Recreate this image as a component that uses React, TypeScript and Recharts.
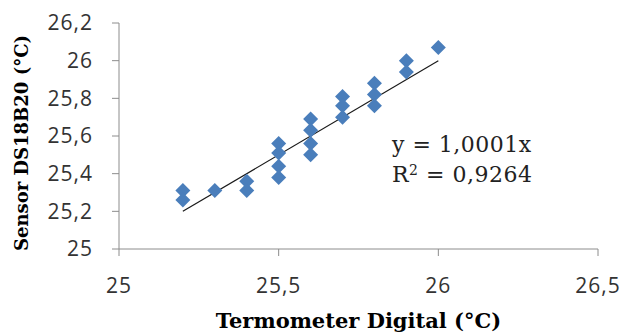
import React from 'react';
import { ScatterChart, Scatter, XAxis, YAxis, ReferenceLine, Label } from 'recharts';

// readings, grouped by thermometer value
const thermometer = [
  25.2, 25.2,
  25.3,
  25.4, 25.4,
  25.5, 25.5, 25.5, 25.5,
  25.6, 25.6, 25.6, 25.6,
  25.7, 25.7, 25.7,
  25.8, 25.8, 25.8,
  25.9, 25.9,
  26.0,
];
const sensor = [
  25.31, 25.26,
  25.31,
  25.36, 25.31,
  25.56, 25.51, 25.44, 25.38,
  25.69, 25.63, 25.56, 25.5,
  25.81, 25.76, 25.7,
  25.88, 25.82, 25.76,
  26.0, 25.94,
  26.07,
];
const xTicks = [25, 25.5, 26, 26.5];
const yTicks = [25, 25.2, 25.4, 25.6, 25.8, 26, 26.2];
const trendStart = { x: 25.2, y: 25.2 };
const trendEnd = { x: 26.0, y: 26.0 };

const points = thermometer.map((t, i) => ({ x: t, y: sensor[i] }));

const fmt = (v: number) => String(v).replace('.', ',');

const Diamond = ({ cx, cy }: any) => {
  const r = 7.5;
  return (
    <polygon
      points={`${cx},${cy - r} ${cx + r},${cy} ${cx},${cy + r} ${cx - r},${cy}`}
      fill="#4a7ebb"
    />
  );
};

const YTitle = () => (
  <text
    x={21}
    y={143}
    transform="rotate(-90, 21, 143)"
    textAnchor="middle"
    dominantBaseline="central"
    fontFamily="DejaVu Serif"
    fontWeight="bold"
    fontSize={18}
    fill="#000"
  >
    Sensor DS18B20 (°C)
  </text>
);

const tickStyle = { fontFamily: 'Open Sans', fontSize: 21, fill: '#333', letterSpacing: 1 };

export default function App() {
  return (
    <div style={{ position: 'absolute', left: 0, top: 0, width: 630, height: 334, background: '#fff' }}>
      <ScatterChart width={630} height={334} margin={{ top: 23, right: 32, bottom: 0, left: 0 }}>
        <XAxis
          type="number"
          dataKey="x"
          domain={[25, 26.5]}
          ticks={xTicks}
          tickFormatter={fmt}
          height={85}
          stroke="#8c8c8c"
          tickSize={7}
          tickMargin={22}
          tick={tickStyle}
        >
          <Label
            value="Termometer Digital (°C)"
            position="insideBottom"
            offset={6}
            style={{ fontFamily: 'DejaVu Serif', fontWeight: 'bold', fontSize: 21, fill: '#000' }}
          />
        </XAxis>
        <YAxis
          type="number"
          dataKey="y"
          domain={[25, 26.2]}
          ticks={yTicks}
          tickFormatter={fmt}
          width={119}
          stroke="#8c8c8c"
          tickSize={7}
          tickMargin={19}
          tick={tickStyle}
        >
          <Label content={<YTitle />} />
        </YAxis>
        <ReferenceLine segment={[trendStart, trendEnd]} stroke="#1a1a1a" strokeWidth={1.2} ifOverflow="visible" />
        <Scatter data={points} shape={<Diamond />} isAnimationActive={false} />
      </ScatterChart>
      <div
        style={{
          position: 'absolute',
          left: 392,
          top: 130,
          fontFamily: 'DejaVu Serif',
          fontSize: 22,
          lineHeight: '30px',
          letterSpacing: 0.5,
          color: '#222',
        }}
      >
        <div>y = 1,0001x</div>
        <div>
          R<sup style={{ fontSize: 14, verticalAlign: 'top', lineHeight: '20px' }}>2</sup> = 0,9264
        </div>
      </div>
    </div>
  );
}
